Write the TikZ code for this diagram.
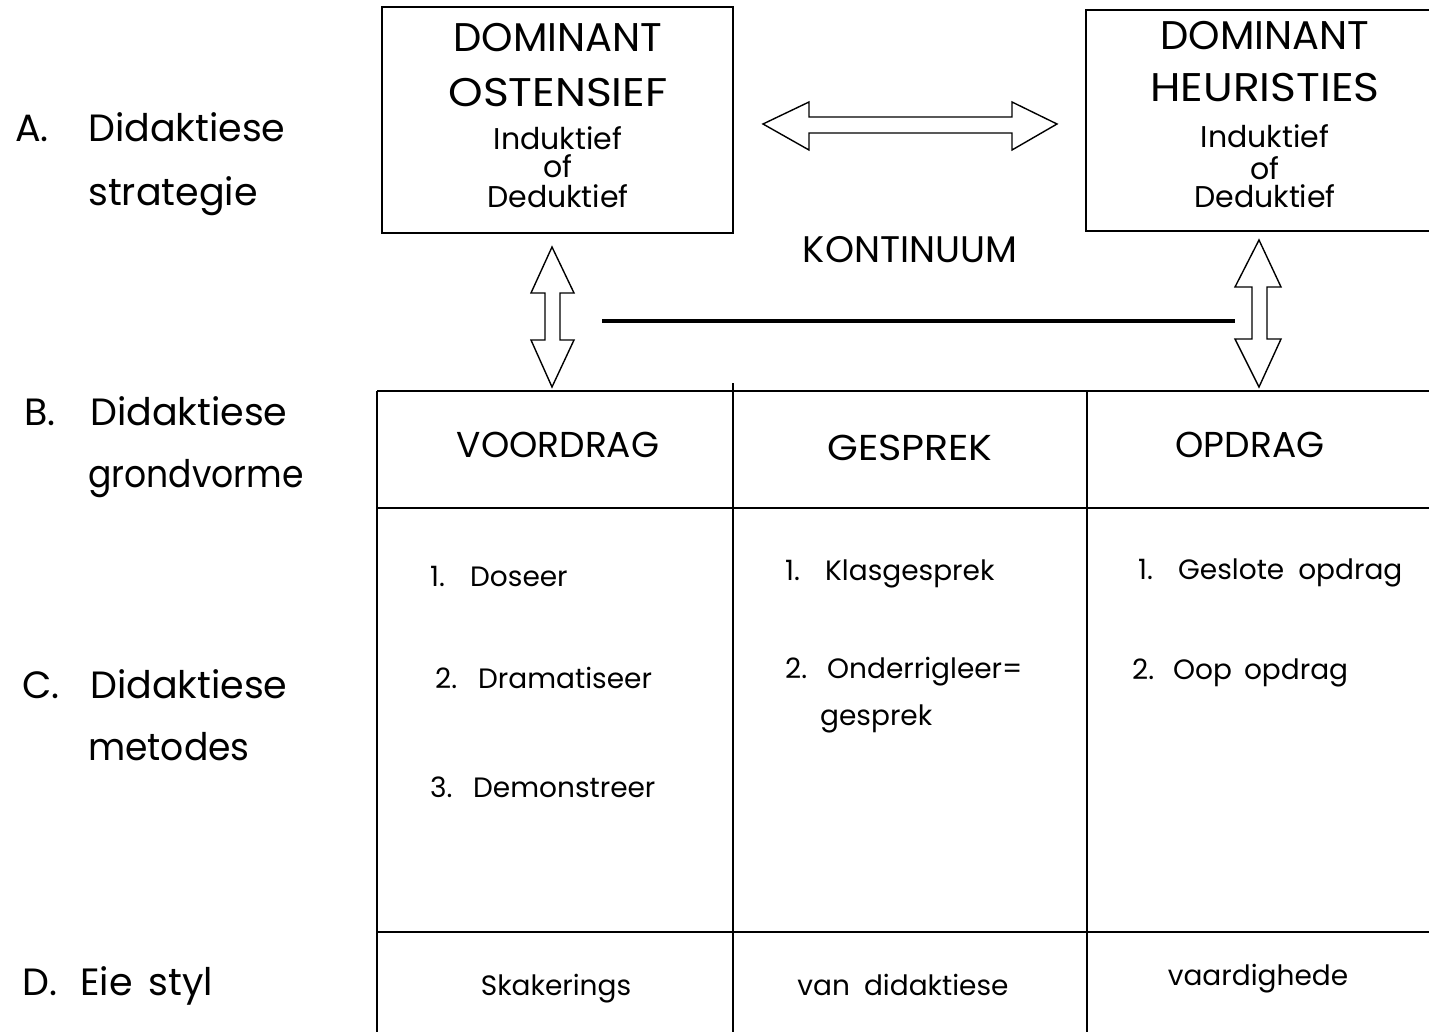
\documentclass[tikz,border=0pt]{standalone}
\usepackage{fontspec}
\setmainfont{Poppins}
\begin{document}
\begin{tikzpicture}[x=1pt,y=-1pt,
  ln/.style={line width=1.4pt},
  big/.style={font=\fontsize{40}{42}\selectfont, inner sep=0pt, anchor=base},
  head/.style={font=\fontsize{36}{40}\selectfont, inner sep=0pt, anchor=base},
  mid/.style={font=\fontsize{30}{32}\selectfont, inner sep=0pt, anchor=base},
  item/.style={font=\fontsize{28}{30}\selectfont, inner sep=0pt, anchor=base west},
  cell/.style={font=\fontsize{28}{30}\selectfont, inner sep=0pt, anchor=base},
  lab/.style={font=\fontsize{38}{42}\selectfont, inner sep=0pt, anchor=base west},
  blk/.style={line width=1.4pt, line join=miter, fill=white},
]
\useasboundingbox (0,0) rectangle (1429,1032);

% left labels
\node[lab] (la1) at (15,142) {\makebox[73pt][l]{A.}Didaktiese};
\node[lab] (la2) at (88,206) {strategie};
\node[lab] (lb1) at (24,425) {\makebox[66pt][l]{B.}Didaktiese};
\node[lab] (lb2) at (88,487) {\scalebox{0.91}[1]{grondvorme}};
\node[lab] (lc1) at (22,698) {\makebox[68pt][l]{C.}Didaktiese};
\node[lab] (lc2) at (88,760) {\scalebox{0.95}[1]{metodes}};
\node[lab] (ld1) at (22,995) {\makebox[58pt][l]{D.}Eie\hspace{16pt}styl};

% top boxes
\draw[ln] (382,7) rectangle (733,233);
\draw[ln] (1429,10) -- (1086,10) -- (1086,231) -- (1429,231);
\node[big] (o1) at (558,52) {DOMINANT};
\node[big] (o2) at (558,107) {\scalebox{1.1}[1]{OSTENSIEF}};
\node[mid] (o3) at (558,150) {Induktief};
\node[mid] (o4) at (558,178) {of};
\node[mid] (o5) at (558,208) {Deduktief};
\node[big] (h1) at (1265,50) {DOMINANT};
\node[big] (h2) at (1265,102) {\scalebox{1.1}[1]{HEURISTIES}};
\node[mid] (h3) at (1265,148) {Induktief};
\node[mid] (h4) at (1265,180) {of};
\node[mid] (h5) at (1265,208) {Deduktief};
\node[head, font=\fontsize{37}{40}\selectfont] (kon) at (910,263) {KONTINUUM};

% block arrows
\draw[blk] (763,124) -- (809,102) -- (809,117) -- (1012,117) -- (1012,102) -- (1057,124)
  -- (1012,150) -- (1012,133) -- (809,133) -- (809,150) -- cycle;
\draw[blk] (552,247) -- (574,293) -- (560,293) -- (560,340) -- (574,340) -- (552,387)
  -- (531,340) -- (545,340) -- (545,293) -- (531,293) -- cycle;
\draw[blk] (1259,240) -- (1281,287) -- (1267,287) -- (1267,339) -- (1281,339) -- (1259,387)
  -- (1235,339) -- (1252,339) -- (1252,287) -- (1235,287) -- cycle;
\draw[line width=4pt] (602,321) -- (1235,321);

% table
\draw[ln] (377,391) -- (1429,391);
\draw[ln] (377,508) -- (1429,508);
\draw[ln] (377,932) -- (1429,932);
\draw[ln] (377,391) -- (377,1032);
\draw[ln] (733,383) -- (733,1032);
\draw[ln] (1087,391) -- (1087,1032);

\node[head] (b1) at (558,457) {VOORDRAG};
\node[head] (b2) at (910,460) {\scalebox{1.1}[1]{GESPREK}};
\node[head] (b3) at (1250,457) {OPDRAG};

\node[item] (c11) at (430,586) {\makebox[40pt][l]{1.}Doseer};
\node[item] (c12) at (435,688) {\makebox[43pt][l]{2.}Dramatiseer};
\node[item] (c13) at (430,797) {\makebox[43pt][l]{3.}Demonstreer};
\node[item] (c21) at (785,580) {\makebox[40pt][l]{1.}Klasgesprek};
\node[item] (c22) at (785,678) {\makebox[42pt][l]{2.}Onderrigleer=};
\node[item] (c23) at (820,725) {gesprek};
\node[item] (c31) at (1138,579) {\makebox[40pt][l]{1.}Geslote\hspace{14pt}opdrag};
\node[item] (c32) at (1132,679) {\makebox[41pt][l]{2.}Oop\hspace{12pt}opdrag};

\node[cell] (d1) at (556,995) {Skakerings};
\node[cell] (d2) at (903,995) {van\hspace{14pt}didaktiese};
\node[cell] (d3) at (1258,985) {vaardighede};
\end{tikzpicture}
\end{document}
